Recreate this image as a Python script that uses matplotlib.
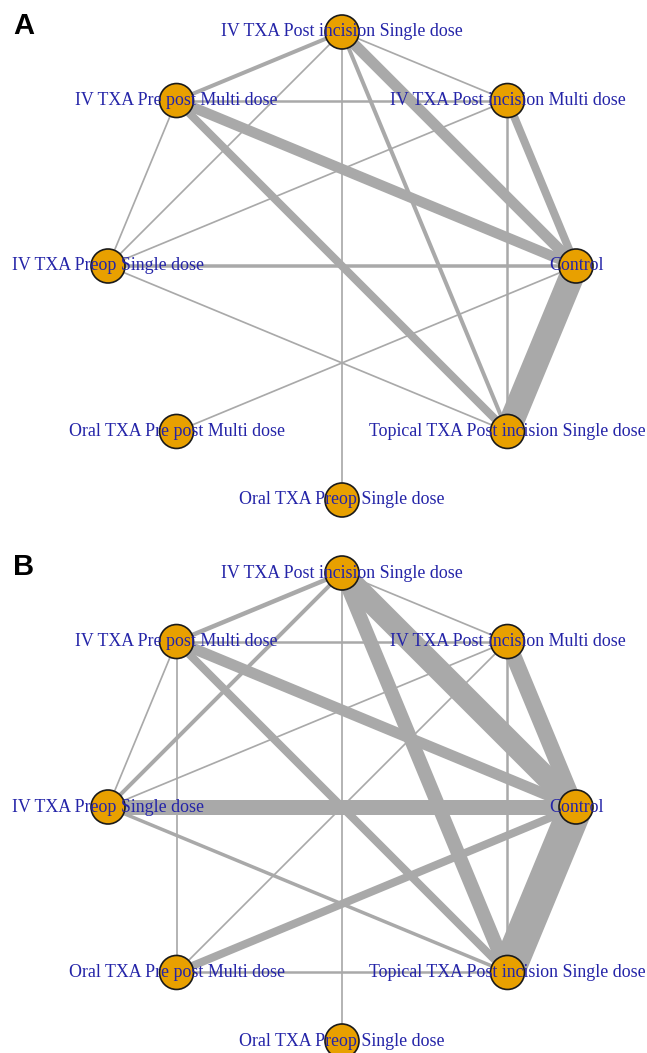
import numpy as np
import matplotlib
matplotlib.use("Agg")
import matplotlib.pyplot as plt
from matplotlib.patches import Circle

# treatments, clockwise from the top of the circle
treatments = ["IV TXA Post incision Single dose",
              "IV TXA Post incision Multi dose",
              "Control",
              "Topical TXA Post incision Single dose",
              "Oral TXA Preop Single dose",
              "Oral TXA Pre post Multi dose",
              "IV TXA Preop Single dose",
              "IV TXA Pre post Multi dose"]

# comparisons (index pairs) and line widths (pixels)
edges_A = [(2, 3), (0, 2), (7, 2), (7, 3), (1, 2), (0, 3), (0, 7), (6, 2),
           (7, 1), (1, 3), (0, 4), (0, 1), (0, 6), (7, 6), (1, 6), (6, 3),
           (2, 5)]
width_A = [25, 11, 10.5, 8, 8, 4, 4, 3.5, 2.5, 2.5, 1.7, 1.7, 1.7, 1.7, 1.7,
           1.7, 1.7]

edges_B = [(2, 3), (0, 2), (1, 2), (6, 2), (0, 3), (7, 2), (7, 3), (2, 5),
           (0, 7), (0, 6), (6, 3), (7, 1), (5, 3), (1, 3), (0, 4), (0, 1),
           (7, 6), (7, 5), (1, 6), (1, 5)]
width_B = [34, 22, 16, 15, 14, 11, 8, 8, 4.5, 4, 3.5, 2.5, 2.5, 2.5, 1.7, 1.7,
           1.7, 1.7, 1.7, 1.7]

W, H, DPI = 647, 1053, 100
R_PX = 234.0
fig = plt.figure(figsize=(W / DPI, H / DPI), dpi=DPI)

ang = np.pi / 2 - np.arange(len(treatments)) * 2 * np.pi / len(treatments)
xs, ys = np.cos(ang), np.sin(ang)


def panel(top, bottom, cx, cy, edges, widths, letter, ly):
    ax = fig.add_axes([0, 1 - bottom / H, 1, (bottom - top) / H])
    ax.set_xlim(-cx / R_PX, (W - cx) / R_PX)
    ax.set_ylim((cy - bottom) / R_PX, (cy - top) / R_PX)
    ax.axis("off")
    for (i, j), w in zip(edges, widths):
        ax.plot([xs[i], xs[j]], [ys[i], ys[j]], color="#a9a9a9",
                lw=w * 72 / DPI, solid_capstyle="butt", zorder=1)
    for x, y in zip(xs, ys):
        ax.add_patch(Circle((x, y), 17 / R_PX, facecolor="#e8a000",
                            edgecolor="#1a1a1a", lw=1.2, zorder=2))
    for x, y, t in zip(xs, ys, treatments):
        ax.text(x, y, t, ha="center", va="center", color="#2424a8",
                fontsize=12.9, family="Liberation Serif", zorder=3)
    fig.text(24 / W, 1 - ly / H, letter, ha="center", va="center",
             fontsize=21, fontweight="bold", family="Liberation Sans")


panel(0, 527, 342, 266, edges_A, width_A, "A", 26)
panel(527, 1053, 342, 807, edges_B, width_B, "B", 567)

fig.savefig("out.png", dpi=DPI, facecolor="white")
